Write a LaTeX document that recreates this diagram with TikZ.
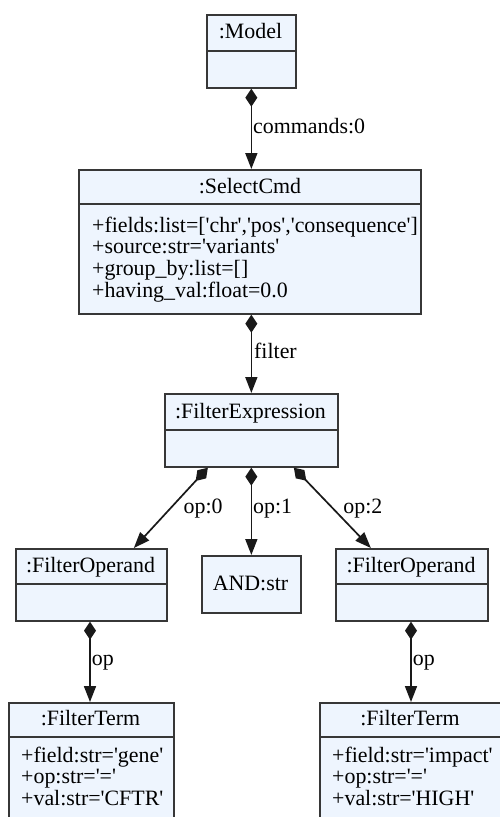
\documentclass[tikz,border=0pt]{standalone}
\usepackage{fontspec}
\setmainfont{Liberation Serif}
\usetikzlibrary{arrows.meta,calc}
\definecolor{boxfill}{RGB}{238,245,254}
\definecolor{edgecol}{RGB}{25,25,25}
\definecolor{bordercol}{RGB}{55,55,55}
\newcommand\sq{\textquotesingle}
\begin{document}
\begin{tikzpicture}[x=1pt,y=-1pt,
  every node/.style={font=\rmfamily\fontsize{21.9}{22}\selectfont, text=black, inner sep=0pt},
  umlbox/.style={draw=bordercol, fill=boxfill, line width=1.7pt, anchor=north west},
  divider/.style={draw=bordercol, line width=1.7pt},
  title/.style={anchor=base},
  attr/.style={anchor=base west},
  comp/.style={draw=edgecol, line width=1.7pt, {Diamond[length=18pt,width=12pt]}-{Triangle[length=16pt,width=12pt]}},
  lbl/.style={anchor=base west}
]
\clip (0,0) rectangle (500,817);
\fill[white] (0,0) rectangle (500,817);

% Model
\node[umlbox, minimum width=89pt, minimum height=73pt] (model) at (206,14) {};
\draw[divider] (model.west |- 0,51) -- (model.east |- 0,51);
\node[title] (modelT) at (250.5,38) {:Model};

% SelectCmd
\node[umlbox, minimum width=342pt, minimum height=144pt] (sel) at (78,169) {};
\draw[divider] (sel.west |- 0,204) -- (sel.east |- 0,204);
\node[title] (selT) at (250,193) {:SelectCmd};
\node[attr] (selA1) at (92,232) {+fields:list=[\sq chr\sq,\sq pos\sq,\sq consequence\sq]};
\node[attr] (selA2) at (92,253.7) {+source:str=\sq variants\sq};
\node[attr] (selA3) at (92,275.4) {+group\_by:list=[]};
\node[attr] (selA4) at (92,297.1) {+having\_val:float=0.0};

% FilterExpression
\node[umlbox, minimum width=173pt, minimum height=73pt] (fexpr) at (164,393) {};
\draw[divider] (fexpr.west |- 0,430) -- (fexpr.east |- 0,430);
\node[title] (fexprT) at (250.5,418) {:FilterExpression};

% FilterOperand left
\node[umlbox, minimum width=151pt, minimum height=72pt] (fop1) at (15,548) {};
\draw[divider] (fop1.west |- 0,584) -- (fop1.east |- 0,584);
\node[title] (fop1T) at (90.5,572) {:FilterOperand};

% AND:str
\node[umlbox, minimum width=99pt, minimum height=57pt] (andn) at (201,555) {};
\node[title] (andT) at (250.5,590) {AND:str};

% FilterOperand right
\node[umlbox, minimum width=152pt, minimum height=72pt] (fop2) at (335,548) {};
\draw[divider] (fop2.west |- 0,584) -- (fop2.east |- 0,584);
\node[title] (fop2T) at (411,572) {:FilterOperand};

% FilterTerm left
\node[umlbox, minimum width=165pt, minimum height=150pt] (ft1) at (8,702) {};
\draw[divider] (ft1.west |- 0,737) -- (ft1.east |- 0,737);
\node[title] (ft1T) at (90.5,725) {:FilterTerm};
\node[attr] (ft1A1) at (21,762) {+field:str=\sq gene\sq};
\node[attr] (ft1A2) at (21,783.5) {+op:str=\sq=\sq};
\node[attr] (ft1A3) at (21,805) {+val:str=\sq CFTR\sq};

% FilterTerm right
\node[umlbox, minimum width=182pt, minimum height=150pt] (ft2) at (319,702) {};
\draw[divider] (ft2.west |- 0,737) -- (ft2.east |- 0,737);
\node[title] (ft2T) at (410,725) {:FilterTerm};
\node[attr] (ft2A1) at (332,762) {+field:str=\sq impact\sq};
\node[attr] (ft2A2) at (332,783.5) {+op:str=\sq=\sq};
\node[attr] (ft2A3) at (332,805) {+val:str=\sq HIGH\sq};

% connectors
\draw[comp] (model.south) -- node[lbl, pos=0.56, xshift=1pt] (l1) {commands:0} (model.south |- sel.north);
\draw[comp] (sel.south -| model.south) -- node[lbl, pos=0.5625, xshift=2pt] (l2) {filter} (model.south |- fexpr.north);
\draw[comp] ($(fexpr.south)+(-43.5,0)$) -- node[lbl, pos=0.568, xshift=17pt] (l3) {op:0} ($(fop1.north)+(42.5,0)$);
\draw[comp] (fexpr.south) -- node[lbl, pos=0.528, xshift=1pt] (l4) {op:1} (fexpr.south |- andn.north);
\draw[comp] ($(fexpr.south)+(42.5,0)$) -- node[lbl, pos=0.568, xshift=5pt] (l5) {op:2} ($(fop2.north)+(-41,0)$);
\draw[comp] (fop1.south -| 90,0) -- node[lbl, pos=0.55, xshift=1pt] (l6) {op} (ft1.north -| 90,0);
\draw[comp] (fop2.south -| 411,0) -- node[lbl, pos=0.55, xshift=1pt] (l7) {op} (ft2.north -| 411,0);
\end{tikzpicture}
\end{document}
